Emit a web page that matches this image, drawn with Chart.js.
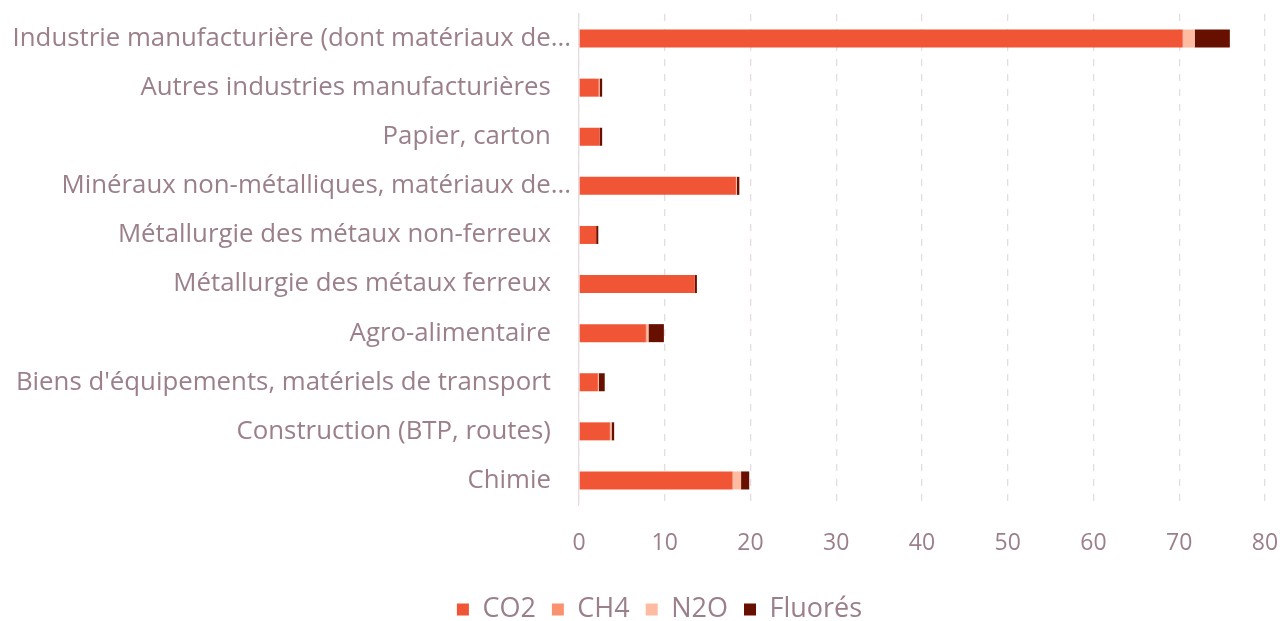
<!DOCTYPE html>
<html>
<head>
<meta charset="utf-8">
<script src="https://cdn.jsdelivr.net/npm/chart.js@4/dist/chart.umd.min.js"></script>
<style>
  html, body { margin: 0; padding: 0; background: #ffffff; }
  #wrap { width: 1284px; height: 621px; }
</style>
</head>
<body>
<div id="wrap"><canvas id="chart" width="1284" height="621"></canvas></div>
<script>
// Sectors, top to bottom. Full labels carry three trailing spaces so they
// line up with the truncated ones, whose "..." hangs past the text edge.
const categories = [
  "Industrie manufacturière (dont matériaux de...",
  "Autres industries manufacturières   ",
  "Papier, carton   ",
  "Minéraux non-métalliques, matériaux de...",
  "Métallurgie des métaux non-ferreux   ",
  "Métallurgie des métaux ferreux   ",
  "Agro-alimentaire   ",
  "Biens d'équipements, matériels de transport   ",
  "Construction (BTP, routes)   ",
  "Chimie   "
];

// Emissions by gas
const co2     = [70.4, 2.3, 2.4, 18.3, 2.0, 13.5, 7.8, 2.2, 3.6, 17.9];
const ch4     = [0.1, 0.0, 0.0, 0.0, 0.0, 0.0, 0.1, 0.0, 0.0, 0.1];
const n2o     = [1.3, 0.1, 0.0, 0.1, 0.0, 0.0, 0.2, 0.1, 0.2, 0.9];
const fluores = [4.1, 0.3, 0.3, 0.3, 0.25, 0.25, 1.8, 0.7, 0.3, 0.95];

const xTicks = [0, 10, 20, 30, 40, 50, 60, 70, 80];

const textColor = "#9b8087";
const lineColor = "#e4dcde";
const fontFamily = "'Open Sans', 'Noto Sans', sans-serif";

const PAD_RIGHT = 19, PAD_TOP = 14;
const PLOT_LEFT = 579, PLOT_BOTTOM = 505, LEGEND_TOP = 580;
const LEGEND_SHIFT = 27;   // legend sits a little right of the page centre

function series(label, data, color) {
  return {
    label, data,
    backgroundColor: color,
    borderWidth: 0,
    categoryPercentage: 1.0,
    barPercentage: 0.367
  };
}

const legendShift = {
  id: "legendShift",
  afterLayout(chart) {
    chart.legend.left += LEGEND_SHIFT;
    chart.legend.right += LEGEND_SHIFT;
  }
};

new Chart(document.getElementById("chart"), {
  type: "bar",
  data: {
    labels: categories,
    datasets: [
      series("CO2", co2, "#f05536"),
      series("CH4", ch4, "#f9936f"),
      series("N2O", n2o, "#fdbca2"),
      series("Fluorés", fluores, "#681000")
    ]
  },
  plugins: [legendShift],
  options: {
    indexAxis: "y",
    responsive: false,
    animation: false,
    layout: { padding: { left: 0, right: PAD_RIGHT, top: PAD_TOP, bottom: 0 } },
    scales: {
      x: {
        stacked: true,
        min: 0, max: 80,
        afterBuildTicks: s => { s.ticks = xTicks.map(v => ({ value: v })); },
        grid: { color: lineColor, lineWidth: 1.3, drawTicks: false },
        border: { display: false, dash: [7, 8] },
        ticks: {
          color: textColor,
          font: { family: fontFamily, size: 23 },
          padding: 25
        },
        afterFit: s => {
          s.paddingLeft = 0;
          s.paddingRight = 0;
          s.height = LEGEND_TOP - PLOT_BOTTOM;
        }
      },
      y: {
        stacked: true,
        grid: { display: false, drawTicks: false },
        border: { display: true, color: lineColor, width: 1.3 },
        ticks: {
          color: textColor,
          font: { family: fontFamily, size: 25.8 },
          padding: 8
        },
        afterFit: s => {
          s.paddingTop = 0;
          s.paddingBottom = 0;
          s.width = PLOT_LEFT;
        }
      }
    },
    plugins: {
      legend: {
        position: "bottom",
        maxHeight: 41,
        labels: {
          color: textColor,
          font: { family: fontFamily, size: 27 },
          boxWidth: 12,
          boxHeight: 12,
          padding: 16,
          generateLabels: chart => chart.data.datasets.map((d, i) => ({
            text: d.label,
            fillStyle: d.backgroundColor,
            strokeStyle: d.backgroundColor,
            lineWidth: 0,
            fontColor: textColor,
            datasetIndex: i,
            hidden: false
          }))
        }
      },
      tooltip: { enabled: false }
    }
  }
});
</script>
</body>
</html>
